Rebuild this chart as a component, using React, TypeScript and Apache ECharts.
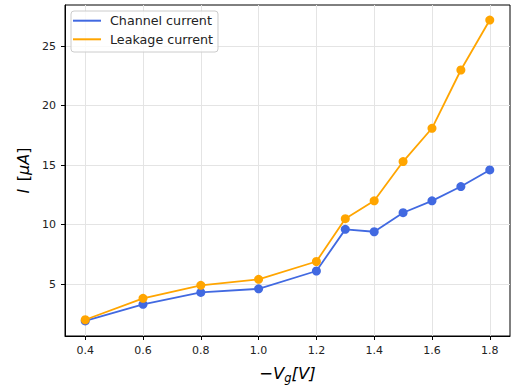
import React, { useEffect, useRef } from "react";
import * as echarts from "echarts";

const xValues = [0.4, 0.6, 0.8, 1.0, 1.2, 1.3, 1.4, 1.5, 1.6, 1.7, 1.8];
const channelCurrent = [1.9, 3.3, 4.3, 4.6, 6.1, 9.6, 9.4, 11.0, 12.0, 13.2, 14.6];
const leakageCurrent = [2.0, 3.8, 4.9, 5.4, 6.9, 10.5, 12.0, 15.3, 18.1, 23.0, 27.2];
const xTicks = [0.4, 0.6, 0.8, 1.0, 1.2, 1.4, 1.6, 1.8];
const yTicks = [5, 10, 15, 20, 25];

const FONT = "DejaVu Sans";

export default function App() {
  const ref = useRef<HTMLDivElement>(null);
  useEffect(() => {
    document.body.style.margin = "0";
    const chart = echarts.init(ref.current!, undefined, { renderer: "svg" });
    const pair = (ys: number[]) => xValues.map((x, i) => [x, ys[i]]);
    chart.setOption({
      animation: false,
      textStyle: { fontFamily: FONT },
      grid: {
        left: 65,
        right: 4,
        top: 5,
        bottom: 49,
        containLabel: false,
        outerBoundsMode: "none",
        show: true,
        borderColor: "#000",
        borderWidth: 1,
        backgroundColor: "transparent",
      },
      legend: {
        orient: "vertical",
        left: 71,
        top: 11,
        backgroundColor: "rgba(255,255,255,0.8)",
        borderColor: "#cccccc",
        borderWidth: 1,
        borderRadius: 3,
        padding: [2.2, 5, 5.2, 2],
        itemGap: 3.6,
        itemWidth: 28,
        itemHeight: 2,
        icon: "rect",
        textStyle: { fontFamily: FONT, fontSize: 12.7, lineHeight: 15, color: "#222", padding: [0, 0, 0, 4] },
        data: ["Channel current", "Leakage current"],
      },
      xAxis: {
        type: "value",
        min: 0.33,
        max: 1.87,
        name: "{n|−V}{s|g}{n|[V]}",
        nameLocation: "middle",
        nameGap: 27,
        nameTextStyle: {
          rich: {
            n: { fontFamily: FONT, fontSize: 16.5, fontStyle: "italic", color: "#000" },
            s: { fontFamily: FONT, fontSize: 11.5, fontStyle: "italic", color: "#000", verticalAlign: "bottom", padding: [9, 0, 0, 0] },
          },
        },
        axisLine: { show: true, lineStyle: { color: "#000", width: 1 } },
        axisTick: { show: true, length: 4, lineStyle: { color: "#000" }, customValues: xTicks },
        axisLabel: {
          customValues: xTicks,
          fontFamily: FONT,
          fontSize: 11,
          color: "#222",
          margin: 8.5,
          formatter: (v: number) => v.toFixed(1),
        },
        splitLine: { show: true, lineStyle: { color: "#e4e4e4", width: 1 } },
      },
      yAxis: {
        type: "value",
        min: 0.635,
        max: 28.465,
        name: "{i|I}  {n|[}{i|μA}{n|]}",
        nameLocation: "middle",
        nameRotate: 90,
        nameGap: 32,
        nameTextStyle: {
          rich: {
            i: { fontFamily: FONT, fontSize: 16, fontStyle: "italic", color: "#000" },
            n: { fontFamily: FONT, fontSize: 16, color: "#000" },
          },
        },
        axisLine: { show: true, lineStyle: { color: "#000", width: 1 } },
        axisTick: { show: true, length: 4, lineStyle: { color: "#000" }, customValues: yTicks },
        axisLabel: {
          customValues: yTicks,
          fontFamily: FONT,
          fontSize: 11,
          color: "#222",
          margin: 9,
        },
        splitLine: { show: true, lineStyle: { color: "#e4e4e4", width: 1 } },
      },
      series: [
        {
          name: "Channel current",
          type: "line",
          data: pair(channelCurrent),
          color: "#4169e1",
          symbol: "circle",
          symbolSize: 9,
          lineStyle: { width: 1.8, color: "#4169e1" },
          itemStyle: { color: "#4169e1" },
        },
        {
          name: "Leakage current",
          type: "line",
          data: pair(leakageCurrent),
          color: "#ffa500",
          symbol: "circle",
          symbolSize: 9,
          lineStyle: { width: 1.8, color: "#ffa500" },
          itemStyle: { color: "#ffa500" },
        },
      ],
    });
    return () => chart.dispose();
  }, []);
  return <div ref={ref} style={{ width: 514, height: 385 }} />;
}
